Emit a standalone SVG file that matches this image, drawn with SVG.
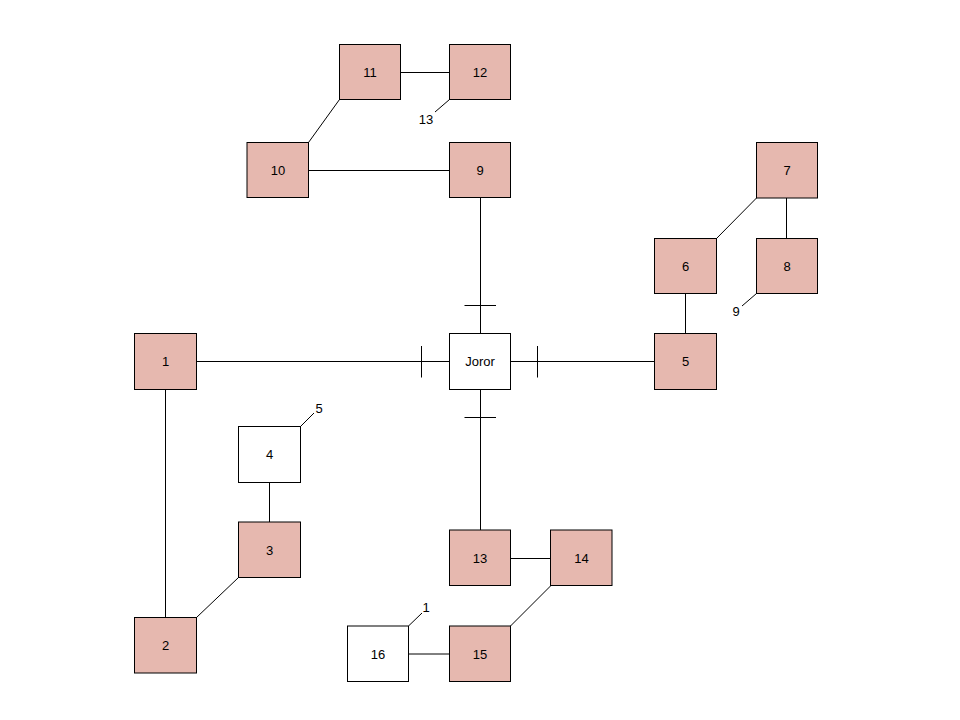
<svg xmlns="http://www.w3.org/2000/svg" width="960" height="720" viewBox="0 0 960 720">
  <style>
    .box { stroke: #000; stroke-width: 1; }
    .red { fill: #e6b8af; }
    .white { fill: #ffffff; }
    .lbl { font-family: "Liberation Sans", Arial, sans-serif; font-size: 13px; fill: #000; text-anchor: middle; dominant-baseline: central; }
    .edge { stroke: #000; stroke-width: 1; fill: none; }
  </style>
  <rect width="960" height="720" fill="#ffffff"/>

  <g id="connectors">
    <!-- hub spokes with crossbar ticks -->
    <line class="edge" x1="196.5" y1="361.5" x2="449.5" y2="361.5"/>
    <line class="edge" x1="421.5" y1="346" x2="421.5" y2="377.5"/>
    <line class="edge" x1="510.5" y1="361.5" x2="654.5" y2="361.5"/>
    <line class="edge" x1="537.5" y1="346" x2="537.5" y2="377.5"/>
    <line class="edge" x1="480.5" y1="197.5" x2="480.5" y2="333.5"/>
    <line class="edge" x1="464.5" y1="305.5" x2="496" y2="305.5"/>
    <line class="edge" x1="480.5" y1="389.5" x2="480.5" y2="530"/>
    <line class="edge" x1="464.5" y1="417.5" x2="496" y2="417.5"/>

    <!-- left cluster -->
    <line class="edge" x1="165.5" y1="389.5" x2="165.5" y2="617.5"/>
    <line class="edge" x1="196.5" y1="617.5" x2="238.5" y2="577.5"/>
    <line class="edge" x1="269.5" y1="482.5" x2="269.5" y2="522"/>
    <line class="edge" x1="300.5" y1="426.5" x2="314" y2="413"/>

    <!-- top cluster -->
    <line class="edge" x1="308.5" y1="170.5" x2="449.5" y2="170.5"/>
    <line class="edge" x1="308.5" y1="142.5" x2="339.5" y2="99.5"/>
    <line class="edge" x1="400.5" y1="72.5" x2="449.5" y2="72.5"/>
    <line class="edge" x1="449.5" y1="99.5" x2="435" y2="112"/>

    <!-- right cluster -->
    <line class="edge" x1="685.5" y1="293.5" x2="685.5" y2="333.5"/>
    <line class="edge" x1="716.5" y1="238.5" x2="756.5" y2="198"/>
    <line class="edge" x1="786.5" y1="198" x2="786.5" y2="238.5"/>
    <line class="edge" x1="756.5" y1="293.5" x2="742" y2="306"/>

    <!-- bottom cluster -->
    <line class="edge" x1="510.5" y1="558.5" x2="550.5" y2="558.5"/>
    <line class="edge" x1="551" y1="585.5" x2="510.5" y2="626"/>
    <line class="edge" x1="408.5" y1="654" x2="449.5" y2="654"/>
    <line class="edge" x1="408.5" y1="626" x2="422" y2="613"/>
  </g>

  <g id="joror"><rect class="box white" x="449.5" y="333.5" width="61" height="56"/><text class="lbl" x="480" y="361.5">Joror</text></g>
  <g id="n1"><rect class="box red" x="134.5" y="333.5" width="62" height="56"/><text class="lbl" x="165.5" y="361.5">1</text></g>
  <g id="n2"><rect class="box red" x="134.5" y="617.5" width="62" height="55.5"/><text class="lbl" x="165.5" y="645.5">2</text></g>
  <g id="n3"><rect class="box red" x="238.5" y="522" width="62" height="55.5"/><text class="lbl" x="269.5" y="550">3</text></g>
  <g id="n4"><rect class="box white" x="238.5" y="426.5" width="62" height="56"/><text class="lbl" x="269.5" y="454.5">4</text></g>
  <g id="n5"><rect class="box red" x="654.5" y="333.5" width="62" height="56"/><text class="lbl" x="685.5" y="361.5">5</text></g>
  <g id="n6"><rect class="box red" x="654.5" y="238.5" width="62" height="55"/><text class="lbl" x="685.5" y="266">6</text></g>
  <g id="n7"><rect class="box red" x="756.5" y="142.5" width="61" height="55.5"/><text class="lbl" x="787" y="170">7</text></g>
  <g id="n8"><rect class="box red" x="756.5" y="238.5" width="61" height="55"/><text class="lbl" x="787" y="266">8</text></g>
  <g id="n9"><rect class="box red" x="449.5" y="142.5" width="61" height="55"/><text class="lbl" x="480" y="170">9</text></g>
  <g id="n10"><rect class="box red" x="247" y="142.5" width="61.5" height="55"/><text class="lbl" x="278" y="170">10</text></g>
  <g id="n11"><rect class="box red" x="339.5" y="44.5" width="61" height="55"/><text class="lbl" x="370" y="72">11</text></g>
  <g id="n12"><rect class="box red" x="449.5" y="44.5" width="61" height="55"/><text class="lbl" x="480" y="72">12</text></g>
  <g id="n13"><rect class="box red" x="449.5" y="530" width="61" height="55.5"/><text class="lbl" x="480" y="558">13</text></g>
  <g id="n14"><rect class="box red" x="550.5" y="530" width="61.5" height="55.5"/><text class="lbl" x="581.5" y="558">14</text></g>
  <g id="n15"><rect class="box red" x="449.5" y="626" width="61" height="55.5"/><text class="lbl" x="480" y="654">15</text></g>
  <g id="n16"><rect class="box white" x="347.5" y="626" width="61" height="55.5"/><text class="lbl" x="378" y="654">16</text></g>

  <!-- dangling port numbers -->
  <g id="port-labels">
    <text class="lbl" x="319" y="408">5</text>
    <text class="lbl" x="426" y="119">13</text>
    <text class="lbl" x="736" y="311">9</text>
    <text class="lbl" x="426" y="607">1</text>
  </g>
</svg>
